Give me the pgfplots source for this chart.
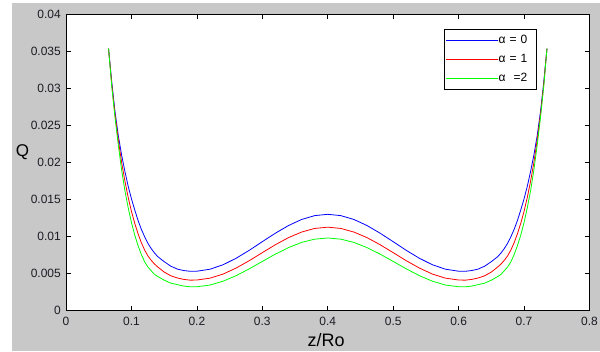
\documentclass[border=0pt]{standalone}
\usepackage{fontspec}
\setmainfont{Liberation Sans}
\usepackage{pgfplots}
\pgfplotsset{compat=1.18}
\usepackage{pgfplotstable}
\definecolor{figgray}{RGB}{200,200,200}
\definecolor{mblue}{RGB}{0,0,255}
\definecolor{mred}{RGB}{255,0,0}
\definecolor{mgreen}{RGB}{0,255,0}
\definecolor{tickgray}{RGB}{28,28,36}

\pgfplotstableread{
x      b        r        g
0.065  0.0354   0.0354   0.0354
0.070  0.0308   0.0305   0.0302
0.075  0.0268   0.0264   0.0260
0.080  0.0236   0.0230   0.0223
0.085  0.0210   0.0200   0.0190
0.090  0.0188   0.0175   0.0162
0.095  0.0168   0.0153   0.0139
0.100  0.0151   0.0134   0.0119
0.105  0.0136   0.0118   0.0102
0.110  0.0122   0.0104   0.0088
0.115  0.0110   0.0092   0.0076
0.120  0.0100   0.0082   0.0066
0.125  0.0091   0.0074   0.0059
0.130  0.0084   0.0068   0.0054
0.135  0.0078   0.0063   0.0049
0.140  0.0073   0.0059   0.0046
0.150  0.0066   0.0052   0.0041
0.160  0.0060   0.0047   0.0037
0.170  0.0056   0.0044   0.0035
0.180  0.0054   0.0042   0.0033
0.190  0.0053   0.0041   0.0032
0.200  0.00531  0.00412  0.00321
0.220  0.00558  0.00437  0.00344
0.240  0.00618  0.00492  0.00396
0.260  0.00706  0.00574  0.00471
0.280  0.00813  0.00673  0.00563
0.300  0.00930  0.00782  0.00663
0.320  0.01045  0.00889  0.00762
0.340  0.01148  0.00985  0.00850
0.360  0.01230  0.01060  0.00920
0.380  0.01282  0.01109  0.00964
0.400  0.01300  0.01126  0.00980
0.420  0.01282  0.01109  0.00964
0.440  0.01230  0.01060  0.00920
0.460  0.01148  0.00985  0.00850
0.480  0.01045  0.00889  0.00762
0.500  0.00930  0.00782  0.00663
0.520  0.00813  0.00673  0.00563
0.540  0.00706  0.00574  0.00471
0.560  0.00618  0.00492  0.00396
0.580  0.00558  0.00437  0.00344
0.600  0.00531  0.00412  0.00321
0.610  0.0053   0.0041   0.0032
0.620  0.0054   0.0042   0.0033
0.630  0.0056   0.0044   0.0035
0.640  0.0060   0.0047   0.0037
0.650  0.0066   0.0052   0.0041
0.660  0.0073   0.0059   0.0046
0.665  0.0078   0.0063   0.0049
0.670  0.0084   0.0068   0.0054
0.675  0.0091   0.0074   0.0059
0.680  0.0100   0.0082   0.0066
0.685  0.0110   0.0092   0.0076
0.690  0.0122   0.0104   0.0088
0.695  0.0136   0.0118   0.0102
0.700  0.0151   0.0134   0.0119
0.705  0.0168   0.0153   0.0139
0.710  0.0188   0.0175   0.0162
0.715  0.0210   0.0200   0.0190
0.720  0.0236   0.0230   0.0223
0.725  0.0268   0.0264   0.0260
0.730  0.0308   0.0305   0.0302
0.735  0.0354   0.0354   0.0354
}\datatab

\begin{document}
\begin{tikzpicture}[x=1bp,y=1bp]
\path[use as bounding box] (0,0) rectangle (600,351);
\fill[figgray] (12,0) rectangle (600,348);
\begin{axis}[
  at={(66bp,40.5bp)}, anchor=south west,
  scale only axis, width=523.5bp, height=296bp,
  xmin=0, xmax=0.8, ymin=0, ymax=0.04,
  scaled ticks=false,
  axis background/.style={fill=white},
  axis line style={black, line width=0.8bp},
  xtick={0,0.1,0.2,0.3,0.4,0.5,0.6,0.7,0.8},
  xticklabels={0,0.1,0.2,0.3,0.4,0.5,0.6,0.7,0.8},
  ytick={0,0.005,0.01,0.015,0.02,0.025,0.03,0.035,0.04},
  yticklabels={0,0.005,0.01,0.015,0.02,0.025,0.03,0.035,0.04},
  tick align=inside,
  major tick length=5bp,
  tick style={black, line width=0.6bp},
  ticklabel style={font=\fontsize{12bp}{14bp}\selectfont, text=tickgray, inner sep=0bp},
  xticklabel style={anchor=north, yshift=-6bp},
  yticklabel style={anchor=east, xshift=-5bp},
  xlabel={z/Ro},
  ylabel={Q},
  xlabel style={at={(axis description cs:0.4967,-0.12)}, anchor=base, inner sep=0bp, font=\fontsize{18bp}{20bp}\selectfont},
  ylabel style={at={(axis description cs:-0.0831,0.5186)}, anchor=base, rotate=-90, inner sep=0bp, font=\fontsize{17bp}{19bp}\selectfont},
  legend style={at={(axis description cs:0.8997,0.950)}, anchor=north east,
    draw=black, line width=0.75bp, fill=white,
    inner xsep=1bp, inner ysep=1.5bp, row sep=0bp,
    font=\fontsize{12bp}{14bp}\selectfont,
    nodes={inner xsep=0bp, inner ysep=3.5bp, text height=9bp, text depth=3bp, text width=37bp}},
  legend cell align=left,
  legend image code/.code={\path (-7bp,0bp) rectangle (45bp,0bp); \draw[#1] (0bp,0bp) -- (39bp,0bp);},
]
\addplot[mblue, line width=0.8bp] table[x=x, y=b] {\datatab};
\addplot[mred, line width=0.8bp] table[x=x, y=r] {\datatab};
\addplot[mgreen, line width=0.8bp] table[x=x, y=g] {\datatab};
\legend{α = 0, α = 1, α\ \ =2}
\end{axis}
\end{tikzpicture}
\end{document}
